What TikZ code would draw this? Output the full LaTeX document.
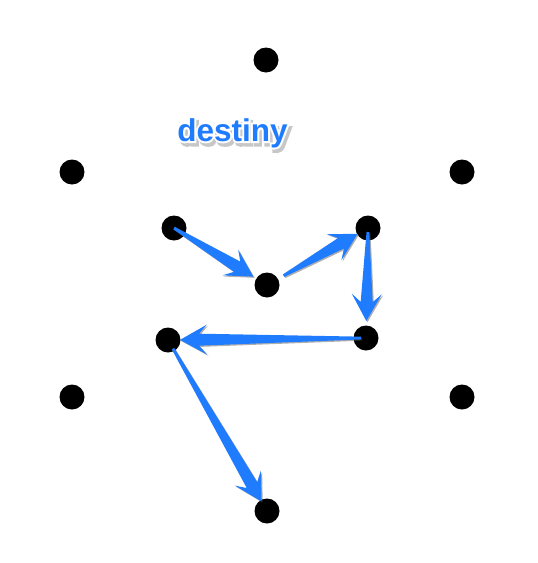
\documentclass[tikz,border=0pt]{standalone}
\usepackage{fontspec}
\newfontfamily\labelfont{Liberation Sans Bold}
\newfontfamily\halofont[FakeBold=12]{Liberation Sans Bold}
\usetikzlibrary{calc,shadows}
\definecolor{skblue}{RGB}{32,124,255}
\tikzset{
  dot/.style={circle,fill=black,inner sep=0pt,minimum size=25pt},
  arrowfill/.style={fill=skblue,drop shadow={shadow xshift=1.2pt,shadow yshift=-1.2pt,opacity=0.45,fill=black!70}},
  lbltext/.style={font=\labelfont\fontsize{31.5}{31.5}\selectfont,inner sep=0pt},
  halotext/.style={font=\halofont\fontsize{31.5}{31.5}\selectfont,inner sep=0pt},
}
\newcommand\skarrow[4]{%
  \coordinate (S) at ($(#1)!#3!(#2)$);
  \coordinate (T) at ($(#2)!#4!(#1)$);
  \coordinate (H) at ($(T)!19pt!(S)$);
  \coordinate (W) at ($(T)!27pt!(S)$);
  \fill[arrowfill] ($(S)!1.4pt!90:(T)$) -- ($(H)!6pt!90:(T)$) -- ($(W)!15pt!90:(T)$)
     -- (T) -- ($(W)!15pt!-90:(T)$) -- ($(H)!6pt!-90:(T)$) -- ($(S)!1.4pt!-90:(T)$) -- cycle;
}
\begin{document}
\begin{tikzpicture}[x=1pt,y=-1pt]
\useasboundingbox (0,0) rectangle (538,563);
\node[dot] (top) at (266,60) {};
\node[dot] (ul) at (72,172) {};
\node[dot] (ur) at (462,172) {};
\node[dot] (a) at (174,228) {};
\node[dot] (b) at (368,228) {};
\node[dot] (c) at (267,285) {};
\node[dot] (d) at (168,340) {};
\node[dot] (e) at (366,338) {};
\node[dot] (ll) at (72,397) {};
\node[dot] (lr) at (462,397) {};
\node[dot] (bot) at (267,511) {};
% label with white halo and shadow
\node[halotext,text=black!22] (lblshadow) at (235,136.5) {destiny};
\node[halotext,text=white] (lblhalo) at (232.5,133) {destiny};
\node[lbltext,text=skblue] (lbl) at (232.5,133) {destiny};
\skarrow{a}{c}{0pt}{16pt}
\skarrow{c}{b}{19pt}{12pt}
\skarrow{b}{e}{4pt}{17pt}
\skarrow{e}{d}{5pt}{12pt}
\skarrow{d}{bot}{10pt}{11pt}
\end{tikzpicture}
\end{document}
